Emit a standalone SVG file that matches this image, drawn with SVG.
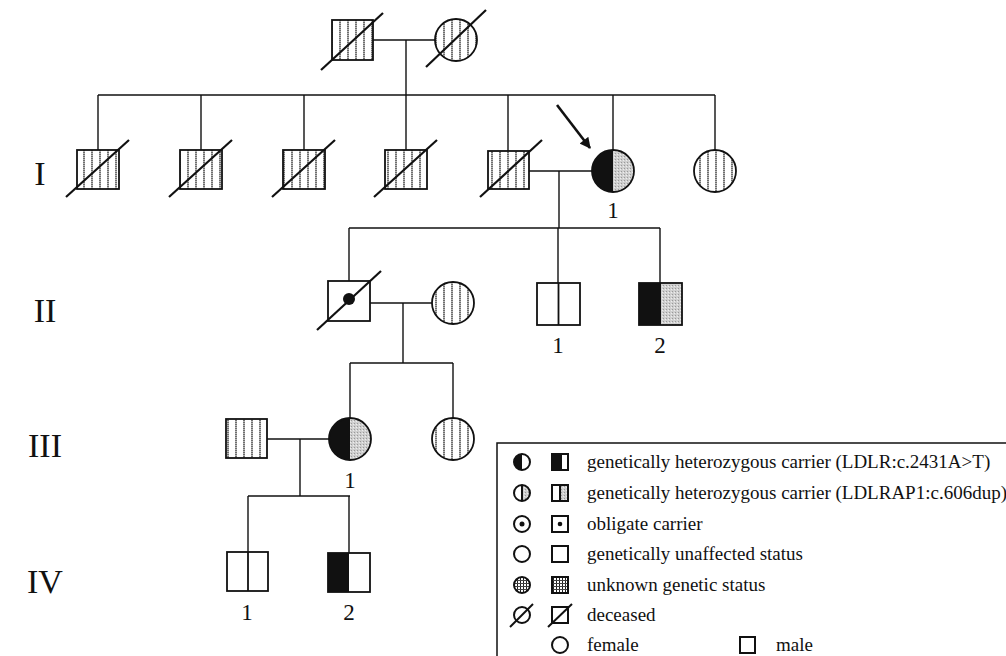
<svg xmlns="http://www.w3.org/2000/svg" width="1006" height="656" viewBox="0 0 1006 656">
<style>
.ln{stroke:#111;stroke-width:1.4;fill:none}
.sh{stroke:#111;stroke-width:1.8}
.sl{stroke:#111;stroke-width:2.2}
.hat{fill:url(#hatch)}
.wh{fill:#fff}
.blk{fill:#111}
.stp{fill:url(#stip)}
.num{font-family:"Liberation Serif","Times New Roman",serif;font-size:34px;fill:#111;text-anchor:middle}
.lab{font-family:"Liberation Serif","Times New Roman",serif;font-size:23px;fill:#111;text-anchor:middle}
.leg{font-family:"Liberation Serif","Times New Roman",serif;font-size:19px;fill:#111}
.ls{stroke:#111;stroke-width:2}
</style>
<defs>
<pattern id="hatch" patternUnits="userSpaceOnUse" width="8" height="4">
<rect width="8" height="4" fill="#fff"/>
<line x1="4" y1="0" x2="4" y2="4" stroke="#222" stroke-width="1.3" stroke-dasharray="1.4 0.6"/>
</pattern>
<pattern id="stip" patternUnits="userSpaceOnUse" width="3" height="3">
<rect width="3" height="3" fill="#cfcfcf"/>
<rect x="0" y="0" width="1" height="1" fill="#999"/>
<rect x="2" y="1" width="1" height="1" fill="#eee"/>
</pattern>
<pattern id="grid" patternUnits="userSpaceOnUse" width="3" height="3">
<rect width="3" height="3" fill="#fff"/>
<rect x="1" y="0" width="1" height="3" fill="#222"/>
<rect x="0" y="1" width="3" height="1" fill="#444"/>
</pattern>
<marker id="arr" viewBox="0 0 10 10" refX="9" refY="5" markerWidth="12" markerHeight="11" markerUnits="userSpaceOnUse" orient="auto">
<path d="M0,0 L10,5 L0,10 Z" fill="#111"/>
</marker>
</defs>
<rect width="1006" height="656" fill="#fff"/>

<g id="connectors" class="ln">
<line x1="373" y1="40" x2="435" y2="40"/>
<line x1="406" y1="40" x2="406" y2="95"/>
<line x1="98" y1="95" x2="715" y2="95"/>
<line x1="98" y1="95" x2="98" y2="150"/>
<line x1="201" y1="95" x2="201" y2="150"/>
<line x1="304" y1="95" x2="304" y2="150"/>
<line x1="406" y1="95" x2="406" y2="150"/>
<line x1="508" y1="95" x2="508" y2="151"/>
<line x1="613" y1="95" x2="613" y2="150"/>
<line x1="715" y1="95" x2="715" y2="150"/>
<line x1="529" y1="171" x2="592" y2="171"/>
<line x1="559" y1="171" x2="559" y2="228"/>
<line x1="349" y1="228" x2="660" y2="228"/>
<line x1="349" y1="228" x2="349" y2="281"/>
<line x1="558" y1="228" x2="558" y2="283"/>
<line x1="660" y1="228" x2="660" y2="283"/>
<line x1="370" y1="303" x2="432" y2="303"/>
<line x1="403" y1="303" x2="403" y2="363"/>
<line x1="350" y1="363" x2="453" y2="363"/>
<line x1="350" y1="363" x2="350" y2="418"/>
<line x1="453" y1="363" x2="453" y2="418"/>
<line x1="267" y1="439" x2="329" y2="439"/>
<line x1="300" y1="439" x2="300" y2="496"/>
<line x1="248" y1="496" x2="350" y2="496"/>
<line x1="248" y1="496" x2="248" y2="552"/>
<line x1="349" y1="496" x2="349" y2="553"/>
<line x1="557" y1="105" x2="590" y2="148" stroke-width="2.6" marker-end="url(#arr)"/>
</g>

<g id="generation-labels">
<text class="num" x="40" y="185">I</text>
<text class="num" x="45" y="322">II</text>
<text class="num" x="45" y="457">III</text>
<text class="num" x="45" y="593">IV</text>
</g>

<g id="gp-male">
<rect class="hat sh" x="332" y="20" width="41" height="40"/>
<line class="sl" x1="321" y1="70" x2="383" y2="13"/>
</g>
<g id="gp-female">
<circle class="hat sh" cx="456" cy="40" r="21"/>
<line class="sl" x1="426" y1="67" x2="486" y2="10"/>
</g>

<g id="I-s1">
<rect class="hat sh" x="77" y="150" width="42" height="39"/>
<line class="sl" x1="66" y1="197" x2="129" y2="140"/>
</g>
<g id="I-s2">
<rect class="hat sh" x="180" y="150" width="42" height="39"/>
<line class="sl" x1="169" y1="197" x2="232" y2="140"/>
</g>
<g id="I-s3">
<rect class="hat sh" x="283" y="150" width="42" height="39"/>
<line class="sl" x1="272" y1="197" x2="335" y2="140"/>
</g>
<g id="I-s4">
<rect class="hat sh" x="385" y="150" width="42" height="39"/>
<line class="sl" x1="374" y1="197" x2="437" y2="140"/>
</g>
<g id="I-spouse">
<rect class="hat sh" x="488" y="151" width="41" height="38"/>
<line class="sl" x1="480" y1="197" x2="542" y2="140"/>
</g>
<g id="I-1">
<path class="stp" d="M613,150 A21,21 0 0 1 613,192 Z"/>
<path class="blk" d="M613,150 A21,21 0 0 0 613,192 Z"/>
<circle class="sh" cx="613" cy="171" r="21" fill="none"/>
<text class="lab" x="613" y="218">1</text>
</g>
<g id="I-sister">
<circle class="hat sh" cx="715" cy="171" r="21"/>
</g>

<g id="II-male">
<rect class="wh sh" x="328" y="281" width="42" height="40"/>
<circle class="blk" cx="349" cy="299" r="6"/>
<line class="sl" x1="317" y1="330" x2="381" y2="271"/>
</g>
<g id="II-wife">
<circle class="hat sh" cx="453" cy="303" r="21"/>
</g>
<g id="II-1">
<rect class="wh sh" x="537" y="283" width="43" height="42"/>
<line class="sh" x1="558.5" y1="283" x2="558.5" y2="325"/>
<text class="lab" x="558" y="353">1</text>
</g>
<g id="II-2">
<rect class="blk" x="639" y="283" width="22" height="42"/>
<rect class="stp" x="661" y="283" width="21" height="42"/>
<rect class="sh" x="639" y="283" width="43" height="42" fill="none"/>
<text class="lab" x="660" y="353">2</text>
</g>

<g id="III-husband">
<rect class="hat sh" x="226" y="419" width="41" height="39"/>
</g>
<g id="III-1">
<path class="stp" d="M350,418 A21,21 0 0 1 350,460 Z"/>
<path class="blk" d="M350,418 A21,21 0 0 0 350,460 Z"/>
<circle class="sh" cx="350" cy="439" r="21" fill="none"/>
<text class="lab" x="350" y="488">1</text>
</g>
<g id="III-sister">
<circle class="hat sh" cx="453" cy="439" r="21"/>
</g>

<g id="IV-1">
<rect class="wh sh" x="227" y="552" width="41" height="39"/>
<line class="sh" x1="248" y1="552" x2="248" y2="591"/>
<text class="lab" x="247" y="620">1</text>
</g>
<g id="IV-2">
<rect class="blk" x="328" y="553" width="21" height="39"/>
<rect class="sh" x="328" y="553" width="42" height="39" fill="none"/>
<text class="lab" x="349" y="620">2</text>
</g>

<g id="legend">
<rect x="497" y="443" width="530" height="230" fill="none" stroke="#111" stroke-width="1.5"/>
<path class="blk" d="M522,454 A8,8 0 0 0 522,470 Z"/>
<circle class="ls" cx="522" cy="462" r="8" fill="none"/>
<rect class="blk" x="552" y="454" width="10" height="16"/>
<rect class="ls" x="552" y="454" width="16" height="16" fill="none"/>
<text class="leg" x="587" y="468">genetically heterozygous carrier (LDLR:c.2431A&gt;T)</text>
<path class="stp" d="M522,485 A8,8 0 0 1 522,501 Z"/>
<circle class="ls" cx="522" cy="493" r="8" fill="none"/>
<line class="ls" x1="522" y1="485" x2="522" y2="501"/>
<rect class="stp" x="560" y="485" width="8" height="16"/>
<rect class="ls" x="552" y="485" width="16" height="16" fill="none"/>
<line class="ls" x1="560" y1="485" x2="560" y2="501"/>
<text class="leg" x="587" y="499">genetically heterozygous carrier (LDLRAP1:c.606dup)</text>
<circle class="ls" cx="522" cy="524" r="8" fill="none"/>
<circle class="blk" cx="522" cy="524" r="2.5"/>
<rect class="ls" x="552" y="516" width="16" height="16" fill="none"/>
<circle class="blk" cx="560" cy="524" r="2.3"/>
<text class="leg" x="587" y="530">obligate carrier</text>
<circle class="ls" cx="522" cy="554" r="8" fill="none"/>
<rect class="ls" x="552" y="546" width="16" height="16" fill="none"/>
<text class="leg" x="587" y="560">genetically unaffected status</text>
<circle class="ls" cx="522" cy="585" r="8" fill="url(#grid)"/>
<rect class="ls" x="552" y="577" width="16" height="16" fill="url(#grid)"/>
<text class="leg" x="587" y="591">unknown genetic status</text>
<circle class="ls" cx="522" cy="615" r="8" fill="none"/>
<line class="ls" x1="510" y1="627" x2="533" y2="604"/>
<rect class="ls" x="552" y="607" width="16" height="16" fill="none"/>
<line class="ls" x1="548" y1="627" x2="572" y2="604"/>
<text class="leg" x="587" y="621">deceased</text>
<circle class="ls" cx="560" cy="645" r="8" fill="none"/>
<text class="leg" x="587" y="651">female</text>
<rect class="ls" x="740" y="637" width="15" height="16" fill="none"/>
<text class="leg" x="776" y="651">male</text>
</g>
</svg>
